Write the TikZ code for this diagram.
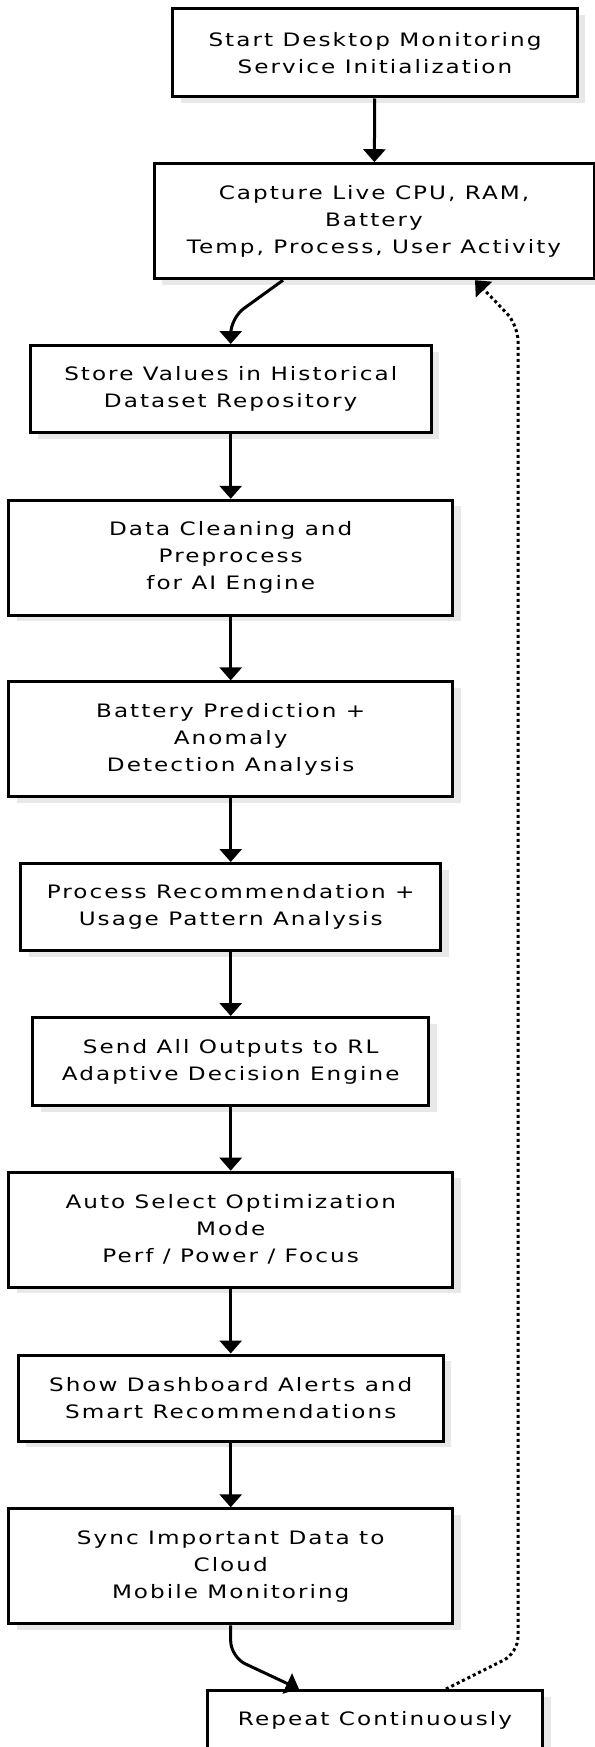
\documentclass[tikz,border=0pt]{standalone}
\usepackage{fontspec}
\setmainfont{DejaVu Sans}[LetterSpace=11,FakeStretch=1.25]
\usetikzlibrary{arrows.meta,shadows,calc}
\tikzset{
  box/.style={draw=black, line width=3pt, fill=white, align=center,
    inner sep=0pt, font=\fontsize{18.5}{27}\selectfont,
    drop shadow={shadow xshift=8pt, shadow yshift=-6pt, fill=black!9, opacity=1}},
  flow/.style={line width=3pt, -{Triangle[width=22pt,length=13pt]}},
  loop/.style={line width=3pt, dash pattern=on 3pt off 3pt, -{Triangle[width=22pt,length=13pt]}}
}
\begin{document}
\begin{tikzpicture}[x=1pt,y=1pt]
\useasboundingbox (0,0) rectangle (594,-1747);
\node[box, minimum width=404.6pt, minimum height=88pt] (start) at (375,-53) {Start Desktop Monitoring\\Service Initialization};
\node[box, minimum width=440pt, minimum height=115pt] (cap) at (374,-221.2) {Capture Live CPU, RAM,\\Battery\\Temp, Process, User Activity};
\node[box, minimum width=401pt, minimum height=87pt] (store) at (230.7,-389) {Store Values in Historical\\Dataset Repository};
\node[box, minimum width=443.6pt, minimum height=115pt] (clean) at (230.7,-557.8) {Data Cleaning and\\Preprocess\\for AI Engine};
\node[box, minimum width=443.6pt, minimum height=115pt] (batt) at (230.7,-739.4) {Battery Prediction +\\Anomaly\\Detection Analysis};
\node[box, minimum width=420pt, minimum height=87pt] (proc) at (230.7,-907) {Process Recommendation +\\Usage Pattern Analysis};
\node[box, minimum width=395.6pt, minimum height=88pt] (send) at (230.7,-1061.5) {Send All Outputs to RL\\Adaptive Decision Engine};
\node[box, minimum width=443.6pt, minimum height=115pt] (auto) at (230.7,-1229.7) {Auto Select Optimization\\Mode\\Perf / Power / Focus};
\node[box, minimum width=424.6pt, minimum height=86pt] (dash) at (230.7,-1398) {Show Dashboard Alerts and\\Smart Recommendations};
\node[box, minimum width=443.6pt, minimum height=115pt] (sync) at (230.7,-1566.3) {Sync Important Data to\\Cloud\\Mobile Monitoring};
\node[box, minimum width=335.4pt, minimum height=59pt] (rep) at (375,-1720) {Repeat Continuously};

\draw[flow] (start) -- (cap);
\draw[flow, rounded corners=16pt] ([xshift=-91pt]cap.south) -- (store.north |- 0,-318) -- (store.north);
\draw[flow] (store) -- (clean);
\draw[flow] (clean) -- (batt);
\draw[flow] (batt) -- (proc);
\draw[flow] (proc) -- (send);
\draw[flow] (send) -- (auto);
\draw[flow] (auto) -- (dash);
\draw[flow] (dash) -- (sync);
\draw[flow, rounded corners=16pt] (sync.south) -- (sync.south |- 0,-1657) -- ([xshift=-76pt]rep.north);
\coordinate (lb) at (518,-1653);
\coordinate (lt) at (518,-325);
\draw[loop, rounded corners=16pt] ([xshift=71pt]rep.north) -- (lb) -- (lt) -- ([xshift=101pt]cap.south);
\end{tikzpicture}
\end{document}
